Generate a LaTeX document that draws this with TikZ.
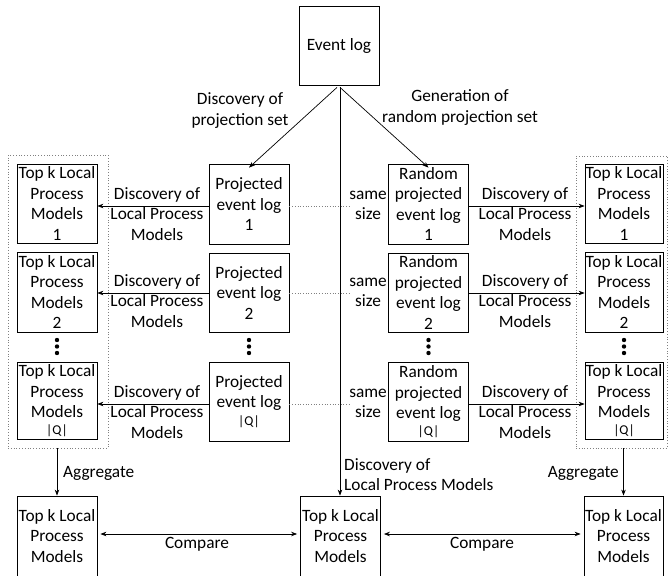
\documentclass[tikz,border=0pt]{standalone}
\usepackage{fontspec}
\setmainfont{Carlito}
\usetikzlibrary{arrows.meta}
\newcommand{\qsz}{\fontsize{13.5}{13.5}\selectfont|Q|}
\begin{document}
\begin{tikzpicture}[x=1pt,y=-1pt,
  txt/.style={font=\fontsize{17.3}{20.5}\selectfont},
  box/.style={draw, line width=0.8pt, minimum width=80pt, minimum height=80pt, inner sep=0pt, align=center, txt},
  lbl/.style={align=center, inner sep=1pt, txt},
  arr/.style={-{Stealth[length=6pt,width=4.5pt]}, line width=0.7pt},
  darr/.style={{Stealth[length=6pt,width=4.5pt]}-{Stealth[length=6pt,width=4.5pt]}, line width=0.7pt},
  dotl/.style={dotted, draw=gray, line width=0.7pt},
  cont/.style={draw=gray, dotted, line width=0.8pt, inner sep=0pt}
]
\useasboundingbox (0,0) rectangle (668,575);

% containers
\node[cont, minimum width=100pt, minimum height=293pt] (cl) at (58,301.5) {};
\node[cont, minimum width=91pt, minimum height=292pt] (cr) at (621.5,302) {};

% event log
\node[box, minimum height=79pt] (ev) at (339,45.5) {Event log};

% projected event logs
\node[box] (pj1) at (249,204) {Projected\\event log\\1};
\node[box, minimum height=79pt] (pj2) at (249,292.5) {Projected\\event log\\2};
\node[box, minimum height=79pt] (pj3) at (249,401.5) {Projected\\event log\\[-3pt]{\qsz}};

% random projected event logs
\node[box] (rp1) at (428.5,204) {Random\\projected\\event log\\1};
\node[box, minimum height=79pt] (rp2) at (428.5,292.5) {Random\\projected\\event log\\2};
\node[box, minimum height=79pt] (rp3) at (428.5,401.5) {Random\\projected\\event log\\[-4pt]{\qsz}};

% left top-k
\node[box, minimum height=79pt] (tl1) at (57,203.5) {Top k Local\\Process\\Models\\1};
\node[box] (tl2) at (57,292) {Top k Local\\Process\\Models\\2};
\node[box, minimum height=77pt] (tl3) at (57,400.5) {Top k Local\\Process\\Models\\[-4pt]{\qsz}};

% right top-k
\node[box, minimum width=78pt, minimum height=79pt] (tr1) at (624,203.5) {Top k Local\\Process\\Models\\1};
\node[box, minimum width=78pt] (tr2) at (624,292) {Top k Local\\Process\\Models\\2};
\node[box, minimum width=78pt, minimum height=77pt] (tr3) at (624,400.5) {Top k Local\\Process\\Models\\[-4pt]{\qsz}};

% bottom
\node[box] (bl) at (57,536) {Top k Local\\Process\\Models};
\node[box] (bm) at (340.5,536) {Top k Local\\Process\\Models};
\node[box, minimum width=79pt] (br) at (623.5,536) {Top k Local\\Process\\Models};

% dots
\foreach \xx in {57,249,428.5,624}{
  \foreach \yy in {340,346.5,353}{
    \fill (\xx,\yy) circle (2.2pt);
  }
}

% top arrows
\draw[arr] (ev.south) ++(-2,2) coordinate (evl) -- ([yshift=-4pt]pj1.north);
\draw[arr] (ev.south) ++(1,2) coordinate (evr) -- ([yshift=-4pt]rp1.north);
\node[lbl] (lp) at (240,110.5) {Discovery of\\projection set};
\node[lbl] (lg) at (460,107.5) {Generation of\\random projection set};
\draw[arr] (ev.south) ++(1,2) coordinate (evm) -- (evm |- bm.north);
\node[lbl, align=left, anchor=west] (ldm) at (343,474.5) {Discovery of\\Local Process Models};

% rows
\foreach \r/\y in {1/206,2/293,3/404}{
  \draw[arr] (pj\r.west |- 0,\y) -- (tl\r.east |- 0,\y);
  \draw[arr] (rp\r.east |- 0,\y) -- (tr\r.west |- 0,\y);
  \node[lbl] (dl\r) at (157,\y+8) {Discovery of\\Local Process\\Models};
  \node[lbl] (dr\r) at (525,\y+8) {Discovery of\\Local Process\\Models};
  \node[lbl, inner sep=0pt, font=\fontsize{17.3}{20}\selectfont] (ss\r) at (368,\y-1) {same\\size};
  \draw[dotl] (pj\r.east |- 0,\y) -- (ss\r.west |- 0,\y);
}

% aggregate
\draw[arr] (cl.south -| bl.north) -- (bl.north);
\node[lbl, anchor=west] (agl) at (62,473) {Aggregate};
\draw[arr] (br.north |- cr.south) -- (br.north);
\node[lbl, anchor=east] (agr) at (620,473) {Aggregate};

% compare
\draw[darr] ([xshift=3pt]bl.east |- 0,534) -- ([xshift=-3pt]bm.west |- 0,534);
\draw[darr] ([xshift=3pt]bm.east |- 0,534) -- ([xshift=-3pt]br.west |- 0,534);
\node[lbl] (c1) at (197,544) {Compare};
\node[lbl] (c2) at (482,544) {Compare};
\end{tikzpicture}
\end{document}
